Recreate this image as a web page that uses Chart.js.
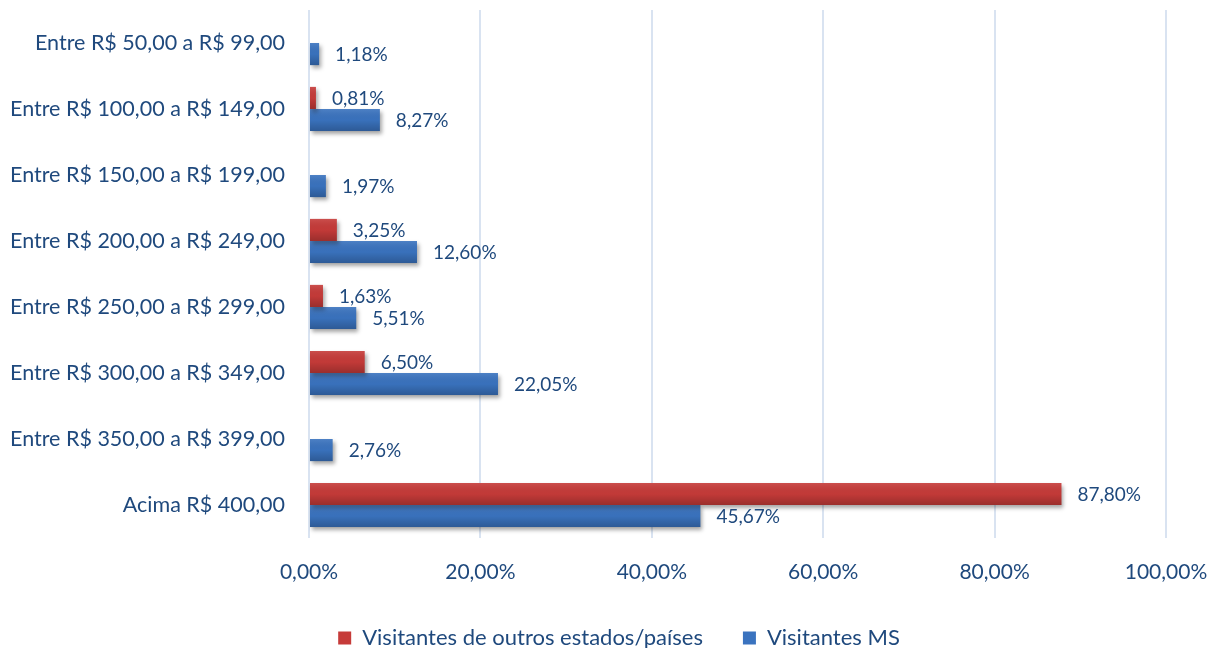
<!DOCTYPE html>
<html>
<head>
<meta charset="utf-8">
<script src="https://cdn.jsdelivr.net/npm/chart.js@4"></script>
<style>
    html, body { margin: 0; padding: 0; background: #fff; }
    #wrap { width: 1211px; height: 648px; position: relative; }
</style>
</head>
<body>
<div id="wrap"><canvas id="gastoChart"></canvas></div>
<script>
// ===========================
// Data
// ===========================

const categories = [
    'Entre R$ 50,00 a R$ 99,00',
    'Entre R$ 100,00 a R$ 149,00',
    'Entre R$ 150,00 a R$ 199,00',
    'Entre R$ 200,00 a R$ 249,00',
    'Entre R$ 250,00 a R$ 299,00',
    'Entre R$ 300,00 a R$ 349,00',
    'Entre R$ 350,00 a R$ 399,00',
    'Acima R$ 400,00'
];

const outrosEstados = [null, 0.81, null, 3.25, 1.63, 6.50, null, 87.80];
const visitantesMS = [1.18, 8.27, 1.97, 12.60, 5.51, 22.05, 2.76, 45.67];

const xTicks = [0, 20, 40, 60, 80, 100];

const TEXT_COLOR = '#1F497D';
const FONT = 'Lato, "Open Sans", sans-serif';

function pct(v) {
    return v.toFixed(2).replace('.', ',') + '%';
}

// ===========================
// Plugins
// ===========================

// Excel-like shading + drop shadow on the bars
const barShading = {
    id: 'barShading',
    beforeDatasetsDraw(chart) {
        const ctx = chart.ctx;
        ctx.save();
        ctx.shadowColor = 'rgba(0, 0, 0, 0.35)';
        ctx.shadowBlur = 4;
        ctx.shadowOffsetX = 2;
        ctx.shadowOffsetY = 3;
    },
    afterDatasetsDraw(chart) {
        const ctx = chart.ctx;
        ctx.restore();
        chart.data.datasets.forEach((ds, i) => {
            const meta = chart.getDatasetMeta(i);
            meta.data.forEach((bar, j) => {
                if (ds.data[j] === null) return;
                const p = bar.getProps(['x', 'y', 'base', 'height'], true);
                const top = p.y - p.height / 2;
                const g = ctx.createLinearGradient(0, top, 0, top + p.height);
                g.addColorStop(0, 'rgba(255,255,255,0.10)');
                g.addColorStop(0.5, 'rgba(0,0,0,0.02)');
                g.addColorStop(1, 'rgba(0,0,0,0.22)');
                ctx.save();
                ctx.fillStyle = g;
                ctx.fillRect(p.base, top, p.x - p.base, p.height);
                ctx.restore();
            });
        });
    }
};

// value labels to the right of each bar
const valueLabels = {
    id: 'valueLabels',
    afterDatasetsDraw(chart) {
        const ctx = chart.ctx;
        ctx.save();
        ctx.font = '19px ' + FONT;
        ctx.fillStyle = TEXT_COLOR;
        ctx.textAlign = 'left';
        ctx.textBaseline = 'middle';
        chart.data.datasets.forEach((ds, i) => {
            const meta = chart.getDatasetMeta(i);
            meta.data.forEach((bar, j) => {
                const v = ds.data[j];
                if (v === null) return;
                const p = bar.getProps(['x', 'y'], true);
                ctx.fillText(pct(v), p.x + 16, p.y + 1);
            });
        });
        ctx.restore();
    }
};

// nudge the legend a bit right and down, like the Excel original,
// and give the x tick labels room so they are not clipped
const layoutNudge = {
    id: 'layoutNudge',
    afterLayout(chart) {
        const lg = chart.legend;
        if (lg) {
            lg.left += 72;
            lg.top += 11;
            lg.bottom += 11;
        }
        const x = chart.scales.x;
        x.bottom = x.top + 56;
    }
};

// ===========================
// Chart
// ===========================

const ctx = document.getElementById('gastoChart');

new Chart(ctx, {
    type: 'bar',
    data: {
        labels: categories,
        datasets: [{
            label: 'Visitantes de outros estados/países',
            data: outrosEstados,
            backgroundColor: '#C63B39',
            categoryPercentage: 0.67,
            barPercentage: 1
        }, {
            label: 'Visitantes MS',
            data: visitantesMS,
            backgroundColor: '#3A73BF',
            categoryPercentage: 0.67,
            barPercentage: 1
        }]
    },
    options: {
        indexAxis: 'y',
        responsive: true,
        maintainAspectRatio: false,
        animation: false,
        layout: {
            padding: { top: 10, right: 45, left: 0, bottom: 0 }
        },
        plugins: {
            legend: {
                position: 'bottom',
                labels: {
                    color: TEXT_COLOR,
                    font: { family: FONT, size: 22 },
                    boxWidth: 13,
                    boxHeight: 13,
                    padding: 40
                }
            },
            tooltip: { enabled: false }
        },
        scales: {
            x: {
                min: 0,
                max: 100,
                afterBuildTicks(scale) {
                    scale.ticks = xTicks.map(v => ({ value: v }));
                },
                afterFit(scale) {
                    scale.height = 38;
                    scale.paddingLeft = 0;
                    scale.paddingRight = 0;
                },
                ticks: {
                    color: TEXT_COLOR,
                    font: { family: FONT, size: 21 },
                    padding: 22,
                    callback: v => pct(v)
                },
                grid: {
                    color: '#D9E3F1',
                    lineWidth: 2,
                    drawTicks: false
                },
                border: { display: false }
            },
            y: {
                afterFit(scale) {
                    scale.width = 309;
                    scale.paddingTop = 0;
                    scale.paddingBottom = 0;
                },
                ticks: {
                    color: TEXT_COLOR,
                    font: { family: FONT, size: 21.5 },
                    padding: 16
                },
                grid: { display: false },
                border: { display: false }
            }
        }
    },
    plugins: [barShading, valueLabels, layoutNudge]
});
</script>
</body>
</html>
